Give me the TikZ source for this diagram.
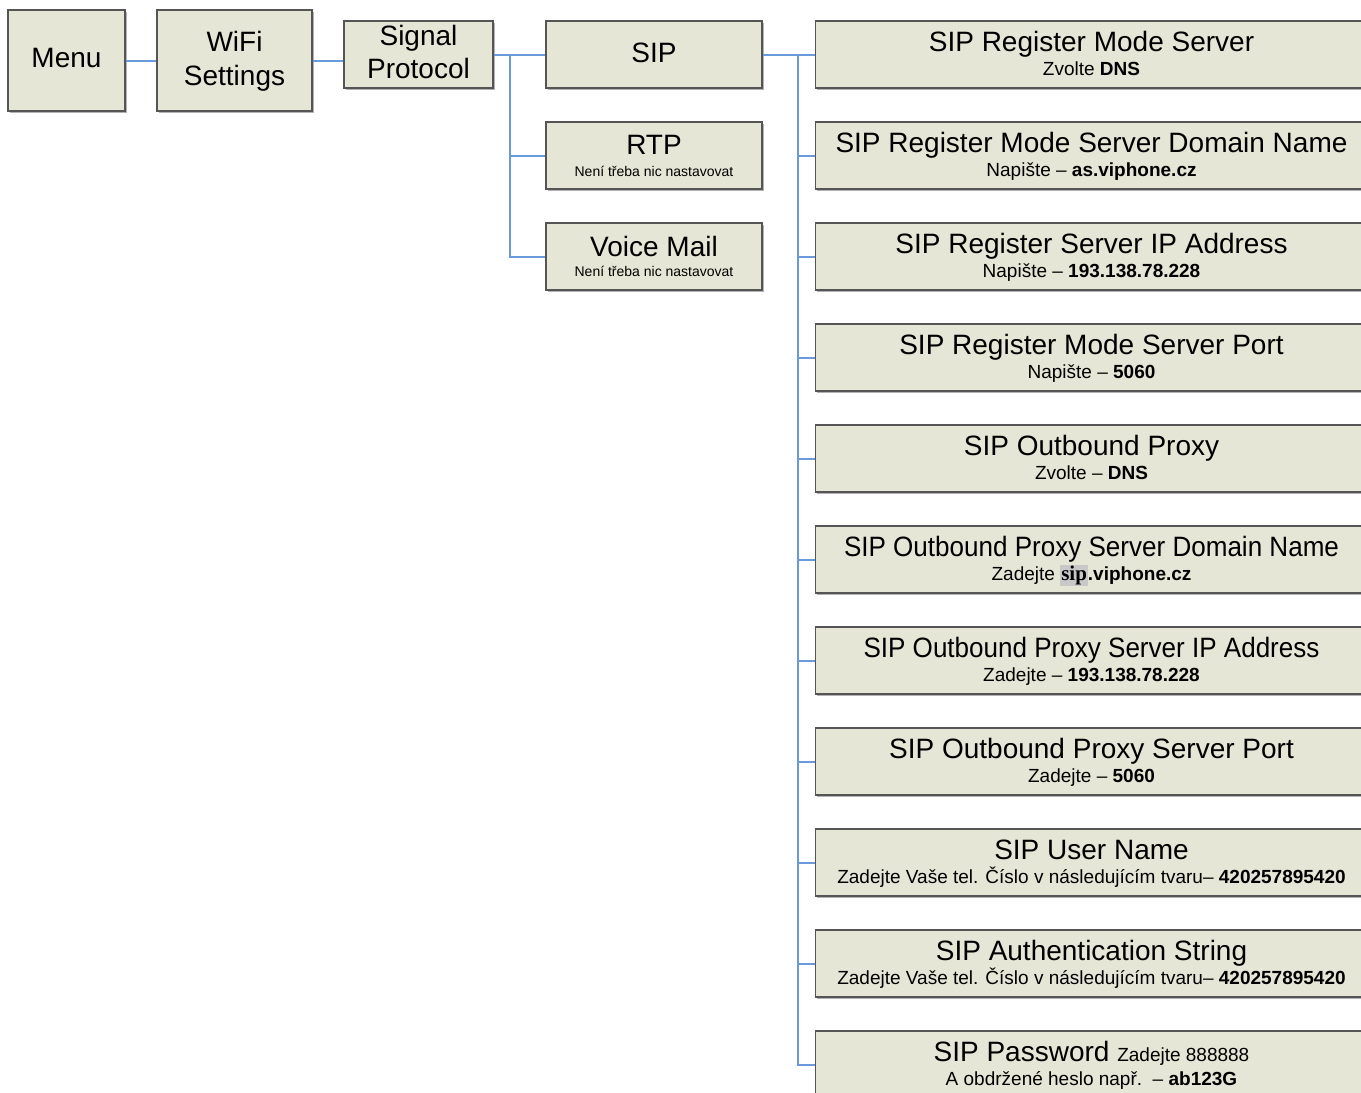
\documentclass[tikz,border=0pt]{standalone}
\usepackage{fontspec}
\setmainfont{Liberation Sans}
\newfontfamily\hlserif{Liberation Serif}
\usetikzlibrary{shadows,calc}
\definecolor{boxfill}{RGB}{230,230,214}
\definecolor{boxline}{RGB}{85,85,85}
\definecolor{conn}{RGB}{105,155,220}
\definecolor{hl}{RGB}{200,200,200}
\newcommand{\sipmark}{{\setlength{\fboxsep}{1pt}\colorbox{hl}{\fontsize{21}{23}\hlserif\bfseries sip}}}
\newcommand{\cond}[1]{\scalebox{0.93}[1]{#1}}
\begin{document}
\begin{tikzpicture}[x=1pt,y=-1pt,
  box/.style={draw=boxline, line width=1.5pt, fill=boxfill, inner sep=0pt,
    drop shadow={shadow xshift=1.5pt, shadow yshift=-1.5pt, opacity=0.3, fill=black}},
  ttl/.style={anchor=base, inner sep=0pt, font=\fontsize{28}{30}\selectfont},
  sub/.style={anchor=base, inner sep=0pt, font=\fontsize{19}{21}\selectfont},
  tinytxt/.style={anchor=base, inner sep=0pt, font=\fontsize{14}{16}\selectfont},
  link/.style={draw=conn, line width=2pt}]
\fill[white] (0,0) rectangle (1361,1093);
\useasboundingbox (0,0) rectangle (1361,1093);

% left column
\node[box, minimum width=117pt, minimum height=101pt] (menu) at (66.5,60.5) {};
\node[ttl] (menuT) at ([yshift=-58pt]menu.north) {Menu};
\node[box, minimum width=155pt, minimum height=101pt] (wifi) at (234.5,60.5) {};
\node[ttl] (wifiA) at ([yshift=-42pt]wifi.north) {WiFi};
\node[ttl] (wifiB) at ([yshift=-76pt]wifi.north) {Settings};
\node[box, minimum width=149pt, minimum height=67pt] (sig) at (418.5,54.5) {};
\node[ttl] (sigA) at ([yshift=-25pt]sig.north) {Signal};
\node[ttl] (sigB) at ([yshift=-58pt]sig.north) {Protocol};

\node[box, minimum width=216pt, minimum height=67pt] (sip) at (654,54.5) {};
\node[ttl] (sipT) at ([yshift=-42pt]sip.north) {SIP};
\node[box, minimum width=216pt, minimum height=67pt] (rtp) at (654,155.5) {};
\node[ttl] (rtpT) at ([yshift=-33pt]rtp.north) {RTP};
\node[tinytxt] (rtpS) at ([yshift=-55pt]rtp.north) {Není třeba nic nastavovat};
\node[box, minimum width=216pt, minimum height=67pt] (vm) at (654,256.5) {};
\node[ttl] (vmT) at ([yshift=-34pt]vm.north) {Voice Mail};
\node[tinytxt] (vmS) at ([yshift=-54pt]vm.north) {Není třeba nic nastavovat};

% right column
\foreach \i/\t/\s in {
  0/{SIP Register Mode Server}/{Zvolte \textbf{DNS}},
  1/{SIP Register Mode Server Domain Name}/{Napište – \textbf{as.viphone.cz}},
  2/{SIP Register Server IP Address}/{Napište – \textbf{193.138.78.228}},
  3/{SIP Register Mode Server Port}/{Napište – \textbf{5060}},
  4/{SIP Outbound Proxy}/{Zvolte – \textbf{DNS}},
  5/{\cond{SIP Outbound Proxy Server Domain Name}}/{Zadejte \sipmark\textbf{.viphone.cz}},
  6/{\cond{SIP Outbound Proxy Server IP Address}}/{Zadejte – \textbf{193.138.78.228}},
  7/{SIP Outbound Proxy Server Port}/{Zadejte – \textbf{5060}},
  8/{SIP User Name}/{Zadejte Vaše tel. Číslo v následujícím tvaru– \textbf{420257895420}},
  9/{SIP Authentication String}/{Zadejte Vaše tel. Číslo v následujícím tvaru– \textbf{420257895420}},
  10/{SIP Password {\fontsize{19}{21}\selectfont Zadejte 888888}}/{A obdržené heslo např.\ \ – \textbf{ab123G}}}{
  \node[box, minimum width=552pt, minimum height=67pt] (r\i) at (1091.5,{54.5+101*\i}) {};
  \node[ttl] (r\i t) at ([yshift=-31pt]r\i.north) {\t};
  \node[sub] (r\i s) at ([yshift=-55pt]r\i.north) {\s};
}

% connectors
\coordinate (j1) at (510,54.5);
\coordinate (j2) at (798,54.5);
\draw[link] (menu.east) -- (wifi.west);
\draw[link] (wifi.east) -- (wifi.east -| sig.west);
\draw[link] (sig.east) -- (sip.west);
\draw[link] (j1) |- (rtp.west);
\draw[link] (j1) |- (vm.west);
\draw[link] (sip.east) -- (r0.west);
\foreach \i in {1,...,10}{
  \draw[link] (j2) |- (r\i.west);
}
\end{tikzpicture}
\end{document}
